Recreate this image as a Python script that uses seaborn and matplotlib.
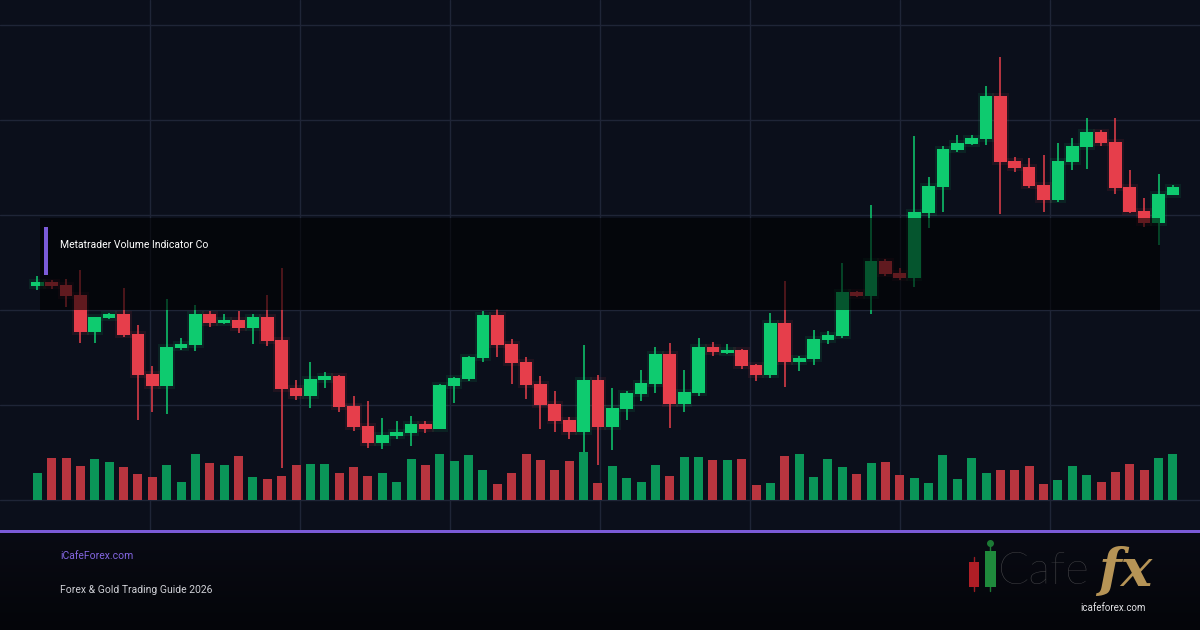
import numpy as np
import pandas as pd
import matplotlib
matplotlib.use('Agg')
import matplotlib.pyplot as plt
from matplotlib.patches import Rectangle
from matplotlib.lines import Line2D
from matplotlib.colors import LinearSegmentedColormap
import seaborn as sns

# OHLC + volume (arbitrary price units)
opens = [214, 218, 215, 205, 168, 182, 186, 166, 126, 114,
         152, 155, 186, 177, 180, 172, 183, 160, 112, 104,
         120, 124, 94, 74, 57, 64, 67, 76, 71, 114,
         121, 142, 185, 156, 138, 116, 96, 80, 68, 120,
         73, 91, 106, 116, 146, 96, 107, 153, 147, 150,
         135, 125, 177, 138, 141, 160, 164, 208, 204, 239,
         227, 222, 287, 313, 350, 356, 361, 404, 339, 333,
         315, 300, 338, 353, 368, 358, 313, 289, 277, 305]
highs = [224, 220, 221, 230, 183, 187, 212, 175, 134, 201,
         162, 195, 189, 186, 189, 186, 205, 232, 120, 138,
         128, 125, 104, 99, 82, 79, 84, 79, 116, 123,
         144, 189, 191, 161, 143, 124, 109, 83, 155, 125,
         112, 109, 130, 153, 157, 130, 162, 158, 156, 151,
         136, 187, 219, 144, 170, 169, 237, 209, 295, 241,
         232, 364, 323, 354, 365, 365, 414, 443, 343, 342,
         345, 357, 362, 382, 370, 382, 330, 302, 326, 315]
lows = [210, 211, 193, 157, 157, 181, 163, 80, 88, 86,
        150, 149, 173, 176, 167, 156, 154, 32, 100, 92,
        112, 88, 69, 52, 51, 61, 54, 67, 71, 97,
        119, 138, 143, 116, 101, 71, 68, 61, 48, 35,
        50, 80, 99, 107, 72, 88, 104, 144, 146, 131,
        119, 122, 113, 129, 135, 156, 162, 203, 186, 224,
        220, 213, 272, 288, 348, 355, 355, 286, 328, 312,
        288, 298, 330, 331, 354, 306, 287, 273, 255, 305]
closes = [218, 214, 204, 168, 183, 186, 165, 125, 114, 153,
          156, 186, 177, 180, 172, 183, 159, 111, 104, 121,
          124, 93, 73, 57, 65, 68, 76, 71, 115, 122,
          143, 185, 155, 137, 115, 95, 79, 68, 120, 73,
          92, 107, 117, 146, 96, 108, 153, 148, 150, 134,
          125, 177, 138, 142, 161, 165, 208, 204, 239, 226,
          222, 288, 314, 351, 357, 362, 404, 338, 332, 314,
          300, 339, 354, 368, 357, 312, 288, 277, 306, 313]
volumes = [27, 42, 42, 34, 41, 38, 33, 26, 23, 35,
           18, 46, 37, 35, 44, 23, 21, 24, 35, 36,
           36, 27, 33, 24, 27, 18, 41, 35, 46, 39,
           45, 30, 16, 27, 46, 40, 30, 39, 48, 17,
           34, 22, 18, 35, 24, 43, 43, 40, 40, 41,
           15, 17, 44, 46, 23, 41, 33, 26, 37, 38,
           25, 22, 17, 45, 21, 42, 27, 30, 30, 34,
           16, 20, 34, 25, 18, 28, 36, 30, 42, 46]

title = 'Metatrader Volume Indicator Co'
site = 'iCafeForex.com'
subtitle = 'Forex & Gold Trading Guide 2026'

df = pd.DataFrame({'open': opens, 'high': highs, 'low': lows,
                   'close': closes, 'volume': volumes})
df['bar'] = np.arange(len(df))
df['dir'] = np.where(df['close'] >= df['open'], 'up', 'down')

bg = '#0b0f1b'
green, red = '#0ecb6f', '#e63e4b'
vol_green, vol_red = '#0a9558', '#b8353f'
purple = '#7b5bd8'

sns.set_theme(style='dark', rc={'axes.facecolor': bg, 'figure.facecolor': bg})
plt.rcParams['font.family'] = ['Roboto', 'DejaVu Sans']

W, H = 1200, 630
def fx(px):
    return px / W
def fy(py):
    return 1 - py / H

fig = plt.figure(figsize=(12, 6.3), dpi=100)
ax_vol = fig.add_axes([0, fy(530), 1, 530 / H])
ax = ax_vol.twinx()

# volume
sns.barplot(data=df, x='bar', y='volume', hue='dir',
            palette={'up': vol_green, 'down': vol_red}, width=0.63,
            dodge=False, legend=False, saturation=1, errorbar=None,
            linewidth=0, edgecolor='none', ax=ax_vol)

slot = 14.375  # px per bar
x0 = 37.3      # px of the first bar
xlim = (-x0 / slot, (W - x0) / slot)
for a in (ax_vol, ax):
    a.set_xlim(*xlim)
    a.set_ylim(-30, 500)
    for s in a.spines.values():
        s.set_visible(False)
    a.tick_params(length=0, labelleft=False, labelbottom=False,
                  labelright=False, left=False, right=False, bottom=False)
    a.set_xlabel('')
    a.set_ylabel('')

ax_vol.set_xticks((np.arange(150, W, 150) - x0) / slot)
ax_vol.set_yticks(np.arange(0, 500, 95))
ax_vol.grid(True, color='#1f2537', lw=1)
ax_vol.set_axisbelow(True)
ax.grid(False)
ax.patch.set_visible(False)

# candles
colors = np.where(df['dir'] == 'up', green, red)
body_lo = df[['open', 'close']].min(axis=1)
body_h = (df['close'] - df['open']).abs()
ax.vlines(df['bar'], df['low'], df['high'], colors=colors, lw=1.1, zorder=2)
ax.bar(df['bar'], body_h + 6, bottom=body_lo - 3, width=1.15, color=colors,
       alpha=0.10, linewidth=0, zorder=2)
ax.bar(df['bar'], body_h, bottom=body_lo, width=0.88, color=colors,
       linewidth=0, zorder=3)

# indicator overlay box
fig.add_artist(Rectangle((fx(40), fy(310)), fx(1160) - fx(40), 92 / H,
                         transform=fig.transFigure, color='black', alpha=0.58,
                         lw=0, zorder=10))
fig.add_artist(Rectangle((fx(43.5), fy(275)), 4 / W, 48 / H,
                         transform=fig.transFigure, color=purple, lw=0, zorder=11))
fig.text(fx(60), fy(245), title, color='white', fontsize=7.5,
         va='center', ha='left', zorder=11)

# footer
fax = fig.add_axes([0, 0, 1, 97 / H])
grad = np.linspace(0, 1, 100).reshape(-1, 1)
fax.imshow(grad, aspect='auto', extent=(0, 1, 0, 1),
           cmap=LinearSegmentedColormap.from_list('f', ['#090b14', '#040509']))
fax.axis('off')
fig.add_artist(Rectangle((0, fy(533)), 1, 3 / H, transform=fig.transFigure,
                         color=purple, lw=0, zorder=12))
fig.text(fx(60), fy(556), site, color='#8466e2', fontsize=7.5, va='center')
fig.text(fx(60), fy(590), subtitle, color='#cfd0d6', fontsize=7.5, va='center')

# logo
fig.add_artist(Line2D([fx(974), fx(974)], [fy(557), fy(591)], color='#9a1c22',
                      lw=1, transform=fig.transFigure, zorder=12))
fig.add_artist(Rectangle((fx(969), fy(587)), 10 / W, 25 / H, transform=fig.transFigure,
                         color='#b01e26', lw=0, zorder=13))
fig.add_artist(Line2D([fx(990), fx(990)], [fy(545), fy(591)], color='#1c7a35',
                      lw=1, transform=fig.transFigure, zorder=12))
fig.add_artist(Line2D([fx(990)], [fy(543)], marker='o', ms=4, color='#1c7a35',
                      transform=fig.transFigure, zorder=12))
fig.add_artist(Rectangle((fx(985), fy(587)), 11 / W, 36 / H, transform=fig.transFigure,
                         color='#1f8a3c', lw=0, zorder=13))
fig.text(fx(998), fy(571), 'Cafe', color='#4a4a4d', fontsize=33, fontweight='light',
         family=['Lato', 'DejaVu Sans'], va='center', ha='left', zorder=13)
fig.text(fx(1098), fy(572), 'fx', color='#b69456', fontsize=38, fontweight='bold',
         style='italic', family=['DejaVu Serif'], va='center', ha='left', zorder=13)
fig.text(fx(1113), fy(608), 'icafeforex.com', color='#e2e2e6', fontsize=7,
         va='center', ha='center', zorder=14)

fig.savefig('out.png', dpi=100, facecolor=bg)
